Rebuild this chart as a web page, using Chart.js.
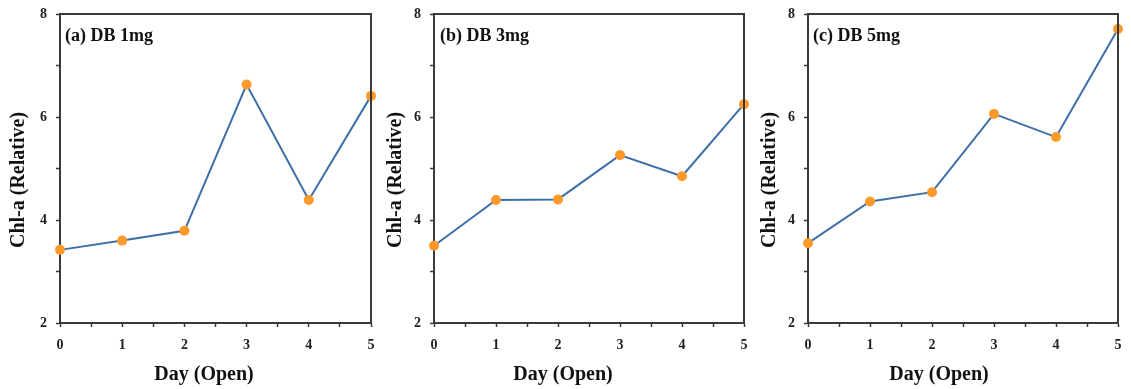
<!DOCTYPE html>
<html>
<head>
<meta charset="utf-8">
<script src="https://cdn.jsdelivr.net/npm/chart.js@4"></script>
<style>
  html, body { margin: 0; padding: 0; background: #ffffff; }
  #wrap { position: relative; width: 1131px; height: 389px; overflow: hidden; }
  #wrap canvas { position: absolute; left: 0; top: 0; }
</style>
</head>
<body>
<div id="wrap">
  <canvas id="ca" width="1131" height="389"></canvas>
  <canvas id="cb" width="1131" height="389"></canvas>
  <canvas id="cc" width="1131" height="389"></canvas>
</div>
<script>
// ---- data ----
const days = [0, 1, 2, 3, 4, 5];
const db1mg = [3.42, 3.60, 3.79, 6.63, 4.39, 6.41];
const db3mg = [3.50, 4.39, 4.40, 5.26, 4.85, 6.25];
const db5mg = [3.55, 4.36, 4.54, 6.06, 5.61, 7.71];
const panelLabels = ['(a) DB 1mg', '(b) DB 3mg', '(c) DB 5mg'];
const xTitle = 'Day (Open)';
const yTitle = 'Chl-a (Relative)';
const yTickLabels = [2, 4, 6, 8];
const xTickLabels = [0, 1, 2, 3, 4, 5];

const SERIF = '"Liberation Serif", "Times New Roman", serif';
const AXIS = '#3a3a3a';

function makePanel(id, values, label, layout) {
  const W = 1131, H = 389;
  const yAxisW = 50;
  const decor = {
    id: 'decor' + id,
    afterDraw(chart) {
      const { ctx, chartArea: a } = chart;
      ctx.save();
      // frame (top and right)
      ctx.strokeStyle = AXIS;
      ctx.lineWidth = 2;
      ctx.beginPath();
      ctx.moveTo(a.left, a.top);
      ctx.lineTo(a.right, a.top);
      ctx.lineTo(a.right, a.bottom);
      ctx.stroke();
      // panel label
      ctx.fillStyle = '#111';
      ctx.font = 'bold 18px ' + SERIF;
      ctx.textAlign = 'left';
      ctx.textBaseline = 'alphabetic';
      ctx.fillText(label, layout.labelX, 41);
      // x title
      ctx.font = 'bold 20px ' + SERIF;
      ctx.textAlign = 'center';
      ctx.textBaseline = 'middle';
      ctx.fillText(xTitle, layout.xTitleX, 375);
      // y title
      ctx.translate(layout.yTitleX, 180);
      ctx.rotate(-Math.PI / 2);
      ctx.fillText(yTitle, 0, 0);
      ctx.restore();
    }
  };
  return new Chart(document.getElementById(id), {
    type: 'line',
    data: {
      datasets: [{
        data: days.map((d, i) => ({ x: d, y: values[i] })),
        borderColor: '#3d6fa8',
        borderWidth: 2,
        pointRadius: 5,
        pointHoverRadius: 5,
        pointBackgroundColor: '#ff9a2a',
        pointBorderColor: '#ff9a2a',
        pointBorderWidth: 0,
        tension: 0,
        clip: false
      }]
    },
    options: {
      responsive: false,
      animation: false,
      events: [],
      layout: {
        padding: { left: layout.plotLeft - yAxisW, right: W - layout.plotRight, top: 14, bottom: 0 }
      },
      plugins: { legend: { display: false }, tooltip: { enabled: false }, title: { display: false } },
      scales: {
        x: {
          type: 'linear',
          min: 0, max: 5,
          afterFit(s) { s.height = H - 323; s.paddingLeft = 0; s.paddingRight = 0; },
          ticks: {
            stepSize: 0.5,
            autoSkip: false,
            maxRotation: 0,
            padding: 10,
            color: '#222',
            font: { family: SERIF, size: 14, weight: 'bold' },
            callback(v) { return xTickLabels.includes(v) ? String(v) : ''; }
          },
          grid: { drawOnChartArea: false, drawTicks: true, tickLength: 4, color: AXIS, tickWidth: 1.5 },
          border: { display: true, color: AXIS, width: 2 }
        },
        y: {
          type: 'linear',
          min: 2, max: 8,
          afterFit(s) { s.width = yAxisW; s.paddingTop = 0; s.paddingBottom = 0; },
          ticks: {
            stepSize: 1,
            autoSkip: false,
            padding: 9,
            color: '#222',
            font: { family: SERIF, size: 14, weight: 'bold' },
            callback(v) { return yTickLabels.includes(v) ? String(v) : ''; }
          },
          grid: { drawOnChartArea: false, drawTicks: true, tickLength: 4, color: AXIS, tickWidth: 1.5 },
          border: { display: true, color: AXIS, width: 2 }
        }
      }
    },
    plugins: [decor]
  });
}

makePanel('ca', db1mg, panelLabels[0], { plotLeft: 60, plotRight: 371, labelX: 65, xTitleX: 204, yTitleX: 19 });
makePanel('cb', db3mg, panelLabels[1], { plotLeft: 434, plotRight: 744, labelX: 440, xTitleX: 563, yTitleX: 396 });
makePanel('cc', db5mg, panelLabels[2], { plotLeft: 808, plotRight: 1118, labelX: 813, xTitleX: 939, yTitleX: 770 });
</script>
</body>
</html>
